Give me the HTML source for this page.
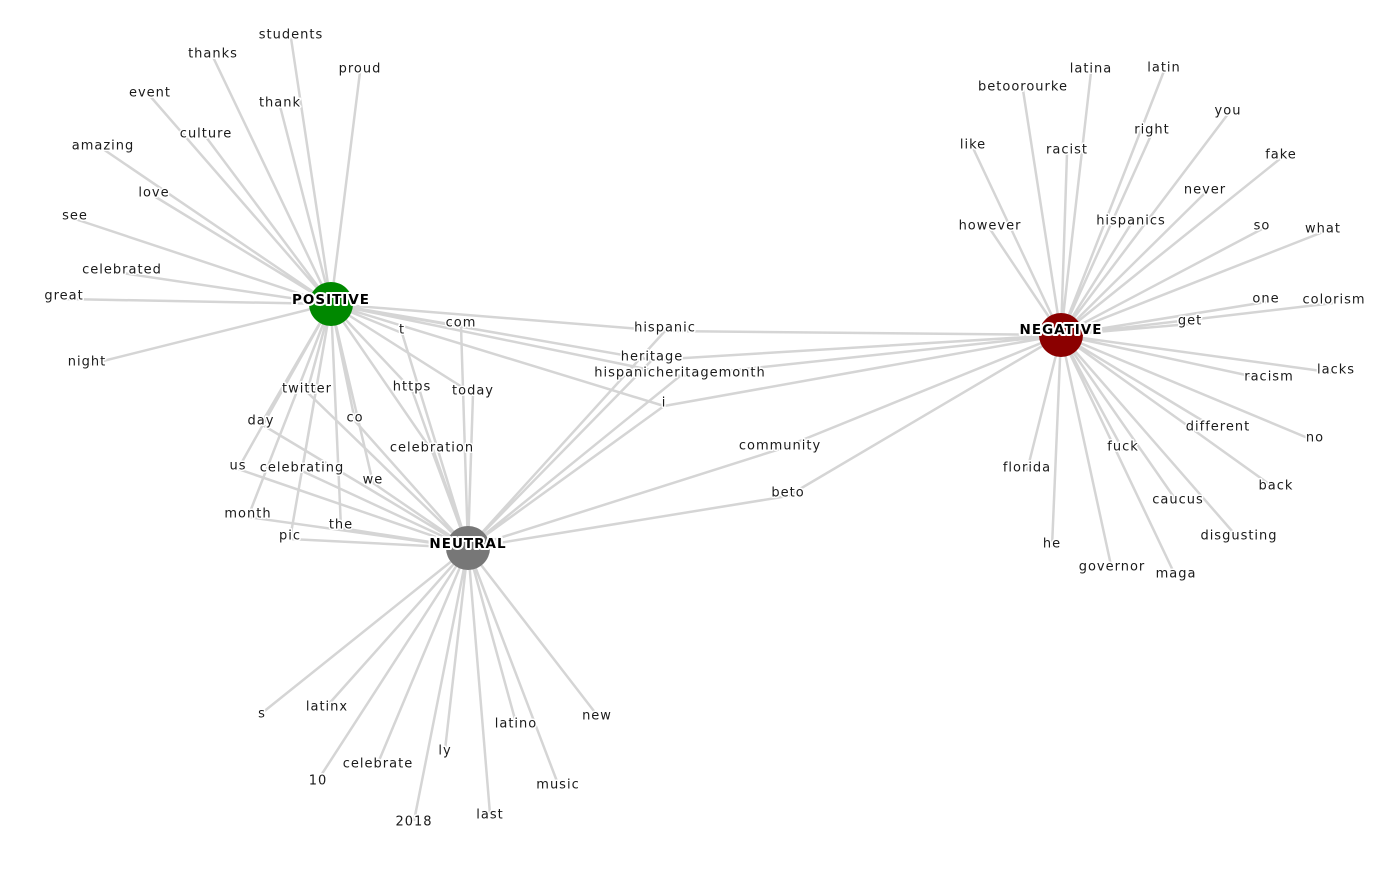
<!DOCTYPE html>
<html><head><meta charset="utf-8"><style>
html,body{margin:0;padding:0;background:#fff;}
svg text{font-family:"DejaVu Sans","Liberation Sans",sans-serif;font-size:13px;letter-spacing:1px;fill:#1a1a1a;text-anchor:middle;dominant-baseline:central;stroke:#fff;stroke-width:3px;paint-order:stroke;stroke-linejoin:round;}
svg text.hub{font-weight:bold;font-size:13.5px;letter-spacing:1px;fill:#000;stroke-width:4px;}
</style></head><body>
<svg width="1400" height="865" viewBox="0 0 1400 865" xmlns="http://www.w3.org/2000/svg">
<g stroke="#d5d5d5" stroke-width="2.5" fill="none">
<path d="M331 304L291 38M331 304L213 57M331 304L360 72M331 304L150 96M331 304L280 106M331 304L206 137M331 304L103 149M331 304L154 196M331 304L75 219M331 304L122 273M331 304L64 299M331 304L87 365"/>
<path d="M331 304L402 333M331 304L461 326M331 304L665 331M331 304L652 360M331 304L680 376M331 304L664 406M331 304L412 390M331 304L473 394M331 304L307 392M331 304L261 424M331 304L355 421M331 304L432 451M331 304L238 469M331 304L302 471M331 304L373 483M331 304L248 517M331 304L341 528M331 304L290 539"/>
<path d="M468 548L402 333M468 548L461 326M468 548L665 331M468 548L652 360M468 548L680 376M468 548L664 406M468 548L412 390M468 548L473 394M468 548L307 392M468 548L261 424M468 548L355 421M468 548L432 451M468 548L238 469M468 548L302 471M468 548L373 483M468 548L248 517M468 548L341 528M468 548L290 539M468 548L780 449M468 548L788 496"/>
<path d="M468 548L262 713M468 548L327 706M468 548L318 780M468 548L378 763M468 548L445 750M468 548L414 821M468 548L490 814M468 548L516 723M468 548L558 784M468 548L597 715"/>
<path d="M1061 335L665 331M1061 335L652 360M1061 335L680 376M1061 335L664 406M1061 335L780 449M1061 335L788 496"/>
<path d="M1061 335L1091 72M1061 335L1164 71M1061 335L1023 90M1061 335L1228 114M1061 335L973 148M1061 335L1067 153M1061 335L1152 133M1061 335L1281 158M1061 335L1205 193M1061 335L990 229M1061 335L1131 224M1061 335L1262 229M1061 335L1323 232M1061 335L1266 302M1061 335L1334 303M1061 335L1190 324M1061 335L1269 380M1061 335L1336 373M1061 335L1218 430M1061 335L1315 441M1061 335L1027 471M1061 335L1123 450M1061 335L1276 489M1061 335L1178 503M1061 335L1239 539M1061 335L1052 547M1061 335L1112 570M1061 335L1176 577"/>
</g>
<circle cx="331" cy="304" r="22" fill="#008800"/>
<circle cx="1061" cy="335" r="22" fill="#8b0000"/>
<circle cx="468" cy="548" r="22" fill="#777"/>
<g transform="translate(0,1)">
<text x="291" y="34">students</text><text x="213" y="53">thanks</text><text x="360" y="68">proud</text><text x="150" y="92">event</text><text x="280" y="102">thank</text><text x="206" y="133">culture</text><text x="103" y="145">amazing</text><text x="154" y="192">love</text><text x="75" y="215">see</text><text x="122" y="269">celebrated</text><text x="64" y="295">great</text><text x="87" y="361">night</text>
<text x="402" y="329">t</text><text x="461" y="322">com</text><text x="665" y="327">hispanic</text><text x="652" y="356">heritage</text><text x="680" y="372">hispanicheritagemonth</text><text x="664" y="402">i</text><text x="412" y="386">https</text><text x="473" y="390">today</text><text x="307" y="388">twitter</text><text x="261" y="420">day</text><text x="355" y="417">co</text><text x="432" y="447">celebration</text><text x="238" y="465">us</text><text x="302" y="467">celebrating</text><text x="373" y="479">we</text><text x="248" y="513">month</text><text x="341" y="524">the</text><text x="290" y="535">pic</text><text x="780" y="445">community</text><text x="788" y="492">beto</text>
<text x="262" y="713">s</text><text x="327" y="706">latinx</text><text x="318" y="780">10</text><text x="378" y="763">celebrate</text><text x="445" y="750">ly</text><text x="414" y="821">2018</text><text x="490" y="814">last</text><text x="516" y="723">latino</text><text x="558" y="784">music</text><text x="597" y="715">new</text>
<text x="1091" y="68">latina</text><text x="1164" y="67">latin</text><text x="1023" y="86">betoorourke</text><text x="1228" y="110">you</text><text x="973" y="144">like</text><text x="1067" y="149">racist</text><text x="1152" y="129">right</text><text x="1281" y="154">fake</text><text x="1205" y="189">never</text><text x="990" y="225">however</text><text x="1131" y="220">hispanics</text><text x="1262" y="225">so</text><text x="1323" y="228">what</text><text x="1266" y="298">one</text><text x="1334" y="299">colorism</text><text x="1190" y="320">get</text><text x="1269" y="376">racism</text><text x="1336" y="369">lacks</text><text x="1218" y="426">different</text><text x="1315" y="437">no</text><text x="1027" y="467">florida</text><text x="1123" y="446">fuck</text><text x="1276" y="485">back</text><text x="1178" y="499">caucus</text><text x="1239" y="535">disgusting</text><text x="1052" y="543">he</text><text x="1112" y="566">governor</text><text x="1176" y="573">maga</text>
<text class="hub" x="331" y="299">POSITIVE</text>
<text class="hub" x="1061" y="329">NEGATIVE</text>
<text class="hub" x="468" y="543">NEUTRAL</text>
</g>
</svg>
</body></html>
